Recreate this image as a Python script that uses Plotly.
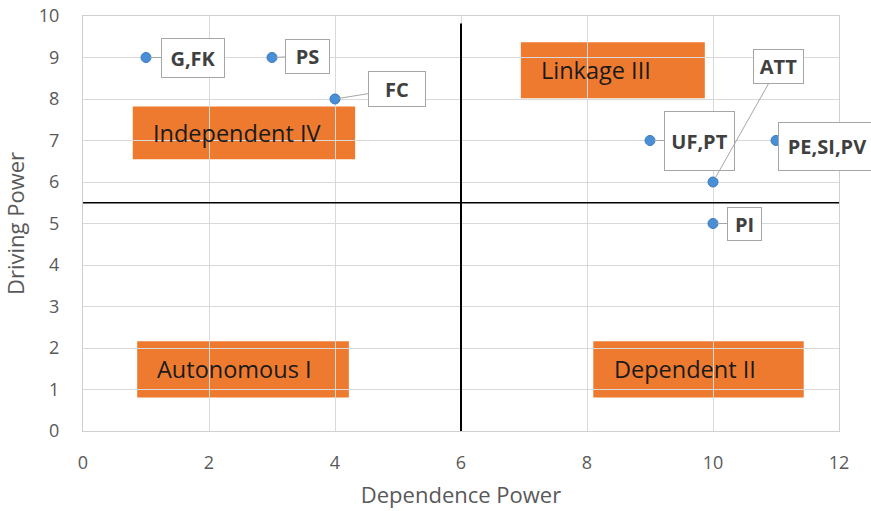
import plotly.graph_objects as go

# Data
labels = ["G,FK", "PS", "FC", "UF,PT", "PE,SI,PV", "ATT", "PI"]
dependence = [1, 3, 4, 9, 11, 10, 10]
driving = [9, 9, 8, 7, 7, 6, 5]

quadrant_names = ["Independent IV", "Linkage III", "Autonomous I", "Dependent II"]
quad_x0 = [0.79, 6.95, 0.86, 8.1]
quad_x1 = [4.32, 9.87, 4.22, 11.44]
quad_y0 = [6.55, 8.02, 0.81, 0.81]
quad_y1 = [7.82, 9.37, 2.16, 2.16]

x_ticks = [0, 2, 4, 6, 8, 10, 12]
y_ticks = list(range(0, 11))

# label callout offsets (px) and box sizes
lab_ax = [47, 35.5, 62, 49.5, 51, 65.5, 31.5]
lab_ay = [0, -1.5, -10, 0, 5.5, -116, 0]
lab_w = [60, 41, 54, 67, 94, 47, 31]
lab_h = [36, 31, 32, 56, 45, 31, 30]

ORANGE = "#EE7A2F"
GREY_TXT = "#595959"
FONT = "Open Sans"

fig = go.Figure()

shapes = []
annotations = []
for name, x0, x1, y0, y1 in zip(quadrant_names, quad_x0, quad_x1, quad_y0, quad_y1):
    shapes.append(dict(type="rect", x0=x0, x1=x1, y0=y0, y1=y1, xref="x", yref="y",
                       fillcolor=ORANGE, line=dict(width=0), layer="below"))
    annotations.append(dict(x=x0 + 0.29, y=(y0 + y1) / 2, xref="x", yref="y", text=name,
                            showarrow=False, xanchor="left", yanchor="middle",
                            font=dict(family=FONT, size=23.5, color="#1a1a1a")))

# quadrant divider lines
shapes.append(dict(type="line", x0=6, x1=6, y0=-0.35, y1=9.82, xref="x", yref="y",
                   line=dict(color="black", width=2)))
shapes.append(dict(type="line", x0=-0.06, x1=12.07, y0=5.5, y1=5.5, xref="x", yref="y",
                   line=dict(color="black", width=1.5)))

fig.add_trace(go.Scatter(x=dependence, y=driving, mode="markers",
                         marker=dict(color="#4A8FD6", size=10,
                                     line=dict(color="#3A78C0", width=1)),
                         cliponaxis=False, showlegend=False, hoverinfo="skip"))

for lab, x, y, ax, ay, w, h in zip(labels, dependence, driving, lab_ax, lab_ay, lab_w, lab_h):
    annotations.append(dict(x=x, y=y, xref="x", yref="y", text="<b>" + lab + "</b>",
                            showarrow=True, ax=ax, ay=ay, axref="pixel", ayref="pixel",
                            arrowhead=0, arrowwidth=1, arrowcolor="#A6A6A6",
                            standoff=4,
                            bgcolor="white", bordercolor="#A6A6A6", borderwidth=1,
                            width=w, height=h,
                            font=dict(family=FONT, size=20, color="#404040")))

fig.update_layout(
    width=871, height=511,
    margin=dict(l=83, r=32, t=16, b=80, autoexpand=False),
    paper_bgcolor="white", plot_bgcolor="white",
    shapes=shapes, annotations=annotations,
    xaxis=dict(range=[0, 12], tickvals=x_ticks, showgrid=True, gridcolor="#D9D9D9",
               gridwidth=1, zeroline=False, showline=True, linecolor="#CFCFCF", mirror=True,
               ticks="", automargin=False, ticklabelstandoff=15,
               ticklabeloverflow="allow",
               tickfont=dict(family=FONT, size=18, color=GREY_TXT),
               title=dict(text="Dependence Power", standoff=15,
                          font=dict(family=FONT, size=22, color=GREY_TXT))),
    yaxis=dict(range=[0, 10], tickvals=y_ticks, showgrid=True, gridcolor="#D9D9D9",
               gridwidth=1, zeroline=False, showline=True, linecolor="#CFCFCF", mirror=True,
               ticks="", automargin=False, ticklabelstandoff=19,
               ticklabeloverflow="allow",
               tickfont=dict(family=FONT, size=18, color=GREY_TXT),
               title=dict(text="Driving Power", standoff=9,
                          font=dict(family=FONT, size=22, color=GREY_TXT))),
)

fig.write_html("out.html", config={"displayModeBar": False},
               post_script="document.body.style.margin='0';document.body.style.overflow='hidden';")
